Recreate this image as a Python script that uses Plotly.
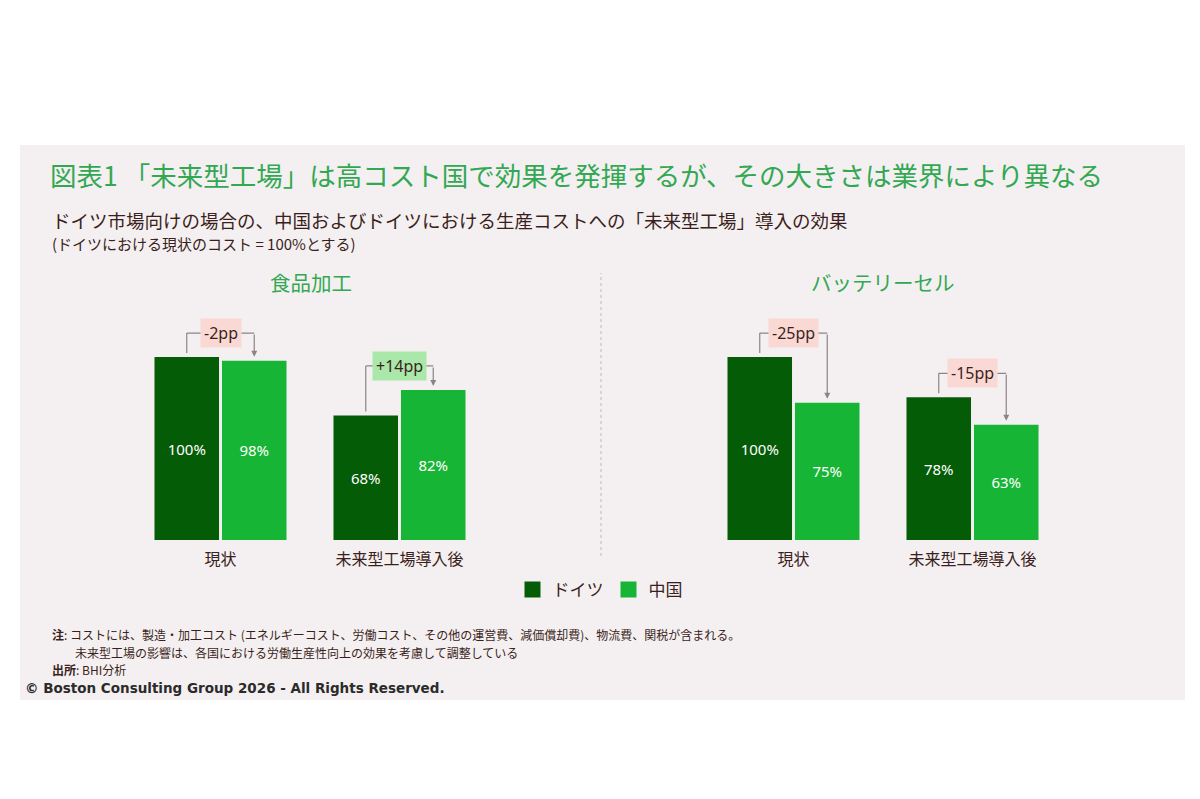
import plotly.graph_objects as go

# ---------------- data ----------------
categories = ["現状", "未来型工場導入後"]
food_germany = [100, 68]
food_china = [98, 82]
battery_germany = [100, 78]
battery_china = [75, 63]
panel_titles = ["食品加工", "バッテリーセル"]
series_names = ["ドイツ", "中国"]

title = "図表1 「未来型工場」は高コスト国で効果を発揮するが、その大きさは業界により異なる"
subtitle1 = "ドイツ市場向けの場合の、中国およびドイツにおける生産コストへの「未来型工場」導入の効果"
subtitle2 = "(ドイツにおける現状のコスト = 100%とする)"
note1 = "<b>注</b>: コストには、製造・加工コスト (エネルギーコスト、労働コスト、その他の運営費、減価償却費)、物流費、関税が含まれる。"
note2 = "未来型工場の影響は、各国における労働生産性向上の効果を考慮して調整している"
source = "<b>出所</b>: BHI分析"
copyright_text = "© Boston Consulting Group 2026 - All Rights Reserved."

# ---------------- styles ----------------
W, H = 1200, 799
DARK = "#045C07"
LIGHT = "#17B535"
TXT = "#3b1f20"
GREEN_T = "#33a852"
BG = "#F4F0F1"
ARROW = "#8a8486"
JP = "Noto Sans CJK JP"

def px(x):
    return x / W

def py(y):
    return 1 - y / H

bargap = 44 / 179
bargroupgap = 0.044
off = (1 - bargap) / 4  # half slot in category units

fig = go.Figure()

panels = [
    ("x", "y", food_germany, food_china),
    ("x2", "y2", battery_germany, battery_china),
]

for i, (xa, ya, ger, chi) in enumerate(panels):
    for name, vals, col in [(series_names[0], ger, DARK), (series_names[1], chi, LIGHT)]:
        fig.add_trace(go.Bar(
            x=categories, y=vals, name=name, marker_color=col,
            marker_line_width=0,
            text=[f"{v}%" for v in vals], textposition="inside",
            insidetextanchor="middle",
            textfont=dict(color="white", size=15, family="Noto Sans"),
            xaxis=xa, yaxis=ya, showlegend=False, hoverinfo="skip",
        ))

# legend entries
for name, col in [(series_names[0], DARK), (series_names[1], LIGHT)]:
    fig.add_trace(go.Scatter(
        x=[None], y=[None], mode="markers", name=name,
        marker=dict(symbol="square", size=20, color=col),
        xaxis="x", yaxis="y", showlegend=True,
    ))

ydom = [py(540), py(265)]
yrng = [0, (540 - 265) / 1.83]

fig.update_layout(
    width=W, height=H,
    margin=dict(l=0, r=0, t=0, b=0),
    paper_bgcolor="white", plot_bgcolor="rgba(0,0,0,0)",
    barmode="group", bargap=bargap, bargroupgap=bargroupgap,
    xaxis=dict(domain=[px(131), px(489)], showgrid=False, zeroline=False, showline=False,
               ticks="", ticklabelstandoff=8,
               tickfont=dict(size=16, color=TXT, family=JP)),
    xaxis2=dict(domain=[px(704), px(1062)], anchor="y2", showgrid=False, zeroline=False,
                showline=False, ticks="", ticklabelstandoff=8,
                tickfont=dict(size=16, color=TXT, family=JP)),
    yaxis=dict(domain=ydom, range=yrng, visible=False),
    yaxis2=dict(domain=ydom, range=yrng, visible=False, anchor="x2"),
    legend=dict(orientation="h", x=px(600), xanchor="center", y=py(590), yanchor="middle",
                font=dict(size=17, color=TXT, family=JP), bgcolor="rgba(0,0,0,0)",
                itemwidth=30, tracegroupgap=0),
    showlegend=True,
)

shapes = []
annotations = []

# panel background
shapes.append(dict(type="rect", xref="paper", yref="paper", x0=px(20), x1=px(1185),
                   y0=py(700), y1=py(145), fillcolor=BG, line_width=0, layer="below"))
# divider
shapes.append(dict(type="line", xref="paper", yref="paper", x0=px(601), x1=px(601),
                   y0=py(556), y1=py(273), line=dict(color="#c9c2c3", width=1.2, dash="dot")))

BRACKET = 13.1
GAP = 2.2
for xa, ya, ger, chi in panels:
    xr = xa
    yr = ya
    for j, (g, c) in enumerate(zip(ger, chi)):
        top = max(g, c) + BRACKET
        xl = j - off
        xrgt = j + off
        shapes.append(dict(type="line", xref=xr, yref=yr, x0=xl, x1=xl, y0=g + GAP, y1=top,
                           line=dict(color=ARROW, width=1.2)))
        shapes.append(dict(type="line", xref=xr, yref=yr, x0=xl, x1=xrgt, y0=top, y1=top,
                           line=dict(color=ARROW, width=1.2)))
        annotations.append(dict(xref=xr, yref=yr, x=xrgt, y=c + GAP, axref=xr, ayref=yr,
                                ax=xrgt, ay=top, text="", showarrow=True, arrowhead=2,
                                arrowsize=1, arrowwidth=1.2, arrowcolor=ARROW))
        d = c - g
        annotations.append(dict(xref=xr, yref=yr, x=j, y=top, text=f"{d:+d}pp",
                                showarrow=False, bgcolor="#A9E8A9" if d > 0 else "#FAD8D4",
                                borderpad=3, font=dict(size=16, color=TXT, family="Noto Sans")))

# panel titles
for t, cx in zip(panel_titles, [311, 883]):
    annotations.append(dict(xref="paper", yref="paper", x=px(cx), y=py(282), text=t,
                            showarrow=False, xanchor="center", yanchor="middle",
                            font=dict(size=20.5, color=GREEN_T, family=JP)))

# title & subtitles
annotations.append(dict(xref="paper", yref="paper", x=px(48), y=py(174), text=title,
                        showarrow=False, xanchor="left", yanchor="middle",
                        font=dict(size=26.5, color=GREEN_T, family=JP)))
annotations.append(dict(xref="paper", yref="paper", x=px(50), y=py(220), text=subtitle1,
                        showarrow=False, xanchor="left", yanchor="middle",
                        font=dict(size=18.5, color=TXT, family=JP)))
annotations.append(dict(xref="paper", yref="paper", x=px(50), y=py(243), text=subtitle2,
                        showarrow=False, xanchor="left", yanchor="middle",
                        font=dict(size=15, color=TXT, family=JP)))

# notes
annotations.append(dict(xref="paper", yref="paper", x=px(50), y=py(634), text=note1,
                        showarrow=False, xanchor="left", yanchor="middle",
                        font=dict(size=12, color=TXT, family=JP)))
annotations.append(dict(xref="paper", yref="paper", x=px(73), y=py(652), text=note2,
                        showarrow=False, xanchor="left", yanchor="middle",
                        font=dict(size=12, color=TXT, family=JP)))
annotations.append(dict(xref="paper", yref="paper", x=px(50), y=py(669), text=source,
                        showarrow=False, xanchor="left", yanchor="middle",
                        font=dict(size=12, color=TXT, family=JP)))
annotations.append(dict(xref="paper", yref="paper", x=px(23), y=py(688),
                        text=f"<b>{copyright_text}</b>",
                        showarrow=False, xanchor="left", yanchor="middle",
                        font=dict(size=13.5, color="#2b2b2b", family="DejaVu Sans")))

fig.update_layout(shapes=shapes, annotations=annotations)
fig.write_html("out.html")
